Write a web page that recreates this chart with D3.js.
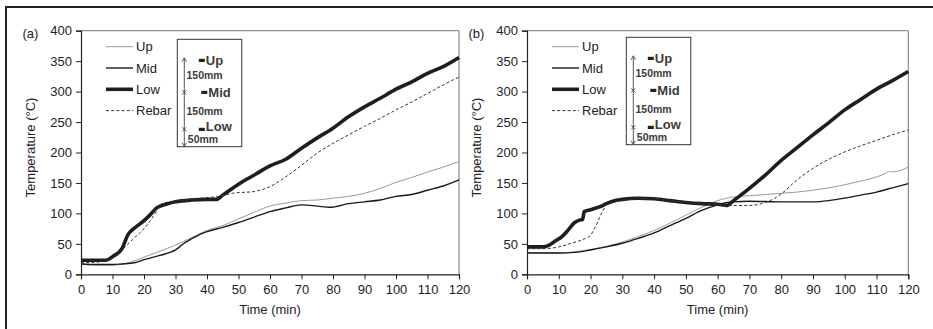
<!DOCTYPE html>
<html>
<head>
<meta charset="utf-8">
<script src="https://cdnjs.cloudflare.com/ajax/libs/d3/7.8.5/d3.min.js"></script>
<style>
  * { margin: 0; padding: 0; }
  body { background: #fff; width: 933px; height: 329px; overflow: hidden; }
  svg { display: block; font-family: "Liberation Sans", Arial, sans-serif; }
  .tick text { font-size: 13px; fill: #222; }
  .inset text { font-family: "Liberation Sans", Arial, sans-serif; font-weight: bold; fill: #3c3c3c; }
</style>
</head>
<body>
<svg id="chart" width="933" height="329"></svg>
<script>
// ---- data (time in min, temperature in °C) ----
const xTicks = [0, 10, 20, 30, 40, 50, 60, 70, 80, 90, 100, 110, 120];
const yTicks = [0, 50, 100, 150, 200, 250, 300, 350, 400];

// panel (a)
const upA_t   = [0, 5, 10, 15, 20, 25, 30, 35, 40, 45, 50, 55, 60, 65, 70, 75, 80, 85, 90, 95, 100, 105, 110, 115, 120];
const upA     = [17, 15, 15, 19, 28, 38, 48, 60, 72, 80, 91, 102, 112, 117, 121, 122, 125, 128, 133, 141, 151, 159, 168, 176, 185];
const midA_t  = [0, 5, 10, 13, 17, 20, 25, 30, 33, 35, 38, 40, 45, 50, 55, 60, 65, 70, 75, 79, 85, 90, 95, 100, 105, 110, 115, 120];
const midA    = [17, 16, 16, 17, 19, 24, 31, 40, 52, 58, 66, 70, 77, 85, 94, 103, 109, 114, 112, 110, 116, 119, 122, 128, 131, 138, 145, 155];
const lowA_t  = [0, 5, 8, 10, 13, 15, 17, 20, 22, 24, 27, 30, 35, 40, 43, 45, 50, 55, 60, 65, 70, 75, 80, 85, 90, 95, 100, 105, 110, 115, 120];
const lowA    = [23, 23, 23, 29, 42, 66, 76, 88, 98, 109, 115, 119, 122, 123, 123, 130, 148, 163, 178, 189, 207, 224, 240, 259, 275, 289, 304, 316, 330, 341, 356];
const rebarA_t = [0, 5, 8, 10, 12, 14, 17, 20, 22, 24, 25, 27, 30, 35, 40, 44, 48, 55, 60, 65, 70, 75, 80, 85, 90, 95, 100, 105, 110, 115, 120];
const rebarA   = [19, 20, 22, 27, 35, 45, 60, 75, 88, 104, 114, 118, 120, 123, 126, 128, 133, 136, 144, 160, 179, 199, 215, 229, 243, 256, 270, 283, 297, 311, 324];

// panel (b)
const upB_t   = [0, 10, 15, 20, 25, 30, 35, 40, 45, 50, 55, 60, 65, 70, 75, 80, 85, 90, 95, 100, 105, 110, 113, 114, 115, 120];
const upB     = [36, 35, 37, 41, 46, 53, 62, 72, 84, 97, 110, 121, 127, 129, 131, 133, 135, 138, 142, 147, 153, 160, 166, 169, 168, 176];
const midB_t  = [0, 10, 15, 20, 25, 30, 35, 40, 45, 50, 55, 60, 63, 65, 70, 80, 90, 95, 100, 105, 110, 115, 120];
const midB    = [35, 35, 36, 40, 45, 51, 59, 68, 80, 92, 105, 114, 118, 119, 120, 119, 119, 121, 125, 130, 135, 142, 149];
const lowB_t  = [0, 5, 7, 9, 11, 13, 15, 16.5, 17.5, 18, 20, 23, 25, 27, 30, 35, 40, 45, 50, 55, 60, 63, 65, 70, 75, 80, 85, 90, 95, 100, 105, 110, 115, 120];
const lowB    = [45, 45, 48, 55, 62, 73, 85, 89, 90, 103, 106, 111, 116, 120, 123, 125, 124, 121, 118, 116, 115, 113, 121, 141, 163, 187, 208, 229, 249, 270, 287, 304, 318, 333];
const rebarB_t = [0, 5, 10, 14, 18, 20, 21, 22, 23, 24, 25, 27, 30, 35, 40, 45, 50, 55, 60, 65, 70, 73, 75, 78, 80, 85, 90, 95, 100, 105, 110, 115, 120];
const rebarB   = [42, 42, 45, 51, 58, 64, 73, 83, 95, 105, 114, 118, 121, 124, 124, 121, 118, 116, 114, 113, 113, 115, 118, 125, 132, 155, 174, 189, 201, 211, 220, 229, 237];

const seriesNames = ["Up", "Mid", "Low", "Rebar"];
const seriesStyle = {
  Up:    { stroke: "#9a9a9a", width: 1,   dash: null },
  Mid:   { stroke: "#1a1a1a", width: 1.4, dash: null },
  Low:   { stroke: "#1e1e1e", width: 3.6, dash: null },
  Rebar: { stroke: "#333",    width: 1,   dash: "3,2.2" }
};

const panels = [
  { tag: "(a)", left: 81,  right: 459,   series: { Up: [upA_t, upA], Mid: [midA_t, midA], Low: [lowA_t, lowA], Rebar: [rebarA_t, rebarA] }, inset: [177.3, 39.3] },
  { tag: "(b)", left: 527, right: 908.3, series: { Up: [upB_t, upB], Mid: [midB_t, midB], Low: [lowB_t, lowB], Rebar: [rebarB_t, rebarB] }, inset: [626.3, 37.3] }
];

const plotTop = 30.7, plotBottom = 274.3;
const svg = d3.select("#chart");

// outer frame (top + left edge only)
svg.append("line").attr("x1", 6).attr("x2", 933).attr("y1", 7).attr("y2", 7).attr("stroke", "#222").attr("stroke-width", 2);
svg.append("line").attr("x1", 6).attr("x2", 6).attr("y1", 6).attr("y2", 329).attr("stroke", "#222").attr("stroke-width", 2);

panels.forEach(p => {
  const x = d3.scaleLinear().domain([0, 120]).range([p.left, p.right]);
  const y = d3.scaleLinear().domain([0, 400]).range([plotBottom, plotTop]);
  const g = svg.append("g");

  // top / right border of plot area
  g.append("path")
    .attr("d", `M${p.left},${plotTop}H${p.right}V${plotBottom}`)
    .attr("fill", "none").attr("stroke", "#777").attr("stroke-width", 1);

  const yAxis = g.append("g").attr("transform", `translate(${p.left},0)`)
    .call(d3.axisLeft(y).tickValues(yTicks).tickSize(5).tickPadding(4));
  const xAxis = g.append("g").attr("transform", `translate(0,${plotBottom})`)
    .call(d3.axisBottom(x).tickValues(xTicks).tickSize(5).tickPadding(5));
  [yAxis, xAxis].forEach(a => {
    a.select(".domain").attr("stroke", "#222").attr("stroke-width", 1.2);
    a.selectAll(".tick line").attr("stroke", "#222");
  });

  g.append("text").attr("x", (p.left + p.right) / 2).attr("y", 313.5)
    .attr("text-anchor", "middle").attr("font-size", 13).attr("fill", "#222").text("Time (min)");
  g.append("text").attr("transform", `translate(${p.left - 51},${(plotTop + plotBottom) / 2 - 5}) rotate(-90)`)
    .attr("text-anchor", "middle").attr("dy", "0.35em").attr("font-size", 13).attr("fill", "#222")
    .text("Temperature (°C)");
  g.append("text").attr("x", p.left - 58.5).attr("y", 38).attr("font-size", 13).attr("fill", "#222").text(p.tag);

  // curves
  const line = d3.line().x(d => x(d[0])).y(d => y(d[1])).curve(d3.curveMonotoneX);
  seriesNames.forEach(name => {
    const [ts, vs] = p.series[name];
    const s = seriesStyle[name];
    g.append("path")
      .datum(ts.map((t, i) => [t, vs[i]]))
      .attr("d", line)
      .attr("fill", "none")
      .attr("stroke", s.stroke)
      .attr("stroke-width", s.width)
      .attr("stroke-dasharray", s.dash)
      .attr("stroke-linejoin", "round");
  });

  // legend
  const lg = g.append("g").attr("transform", `translate(${p.left + 25},46.7)`);
  seriesNames.forEach((name, i) => {
    const s = seriesStyle[name];
    const row = lg.append("g").attr("transform", `translate(0,${i * 21.3})`);
    row.append("line").attr("x1", 0).attr("x2", 27).attr("stroke", s.stroke)
      .attr("stroke-width", s.width).attr("stroke-dasharray", s.dash);
    row.append("text").attr("x", 30).attr("dy", "0.36em").attr("font-size", 13).attr("fill", "#222").text(name);
  });

  // inset sketch of thermocouple positions
  const ins = g.append("g").attr("class", "inset").attr("transform", `translate(${p.inset[0]},${p.inset[1]})`);
  ins.append("rect").attr("width", 64.5).attr("height", 107.4).attr("fill", "#fff").attr("stroke", "#333").attr("stroke-width", 1);
  ins.append("line").attr("x1", 7).attr("x2", 7).attr("y1", 19).attr("y2", 107).attr("stroke", "#444").attr("stroke-width", 0.9);
  ins.append("path").attr("d", "M4.8,22.5L7,18.5L9.2,22.5M4.8,103.5L7,107L9.2,103.5").attr("fill", "none").attr("stroke", "#444").attr("stroke-width", 0.9);
  [53, 90].forEach(yy => {
    ins.append("path").attr("d", `M5,${yy - 2}L9,${yy + 2}M5,${yy + 2}L9,${yy - 2}`).attr("stroke", "#444").attr("stroke-width", 0.9);
  });
  const marks = [["Up", 21, 21.5], ["Mid", 53, 24], ["Low", 87.5, 21.5]];
  marks.forEach(([t, yy, dx]) => {
    ins.append("rect").attr("x", dx).attr("y", yy - 1.5 + (t === "Low" ? 2.5 : 0)).attr("width", 6).attr("height", 3.2).attr("fill", "#222");
    ins.append("text").attr("x", dx + 7).attr("y", yy).attr("dy", "0.36em").attr("font-size", 13).text(t);
  });
  [["150mm", 36], ["150mm", 71.5], ["50mm", 99.5]].forEach(([t, yy], i) => {
    ins.append("text").attr("x", i === 2 ? 10.5 : 9.2).attr("y", yy).attr("dy", "0.36em").attr("font-size", 10.5).text(t);
  });
});
</script>
</body>
</html>
